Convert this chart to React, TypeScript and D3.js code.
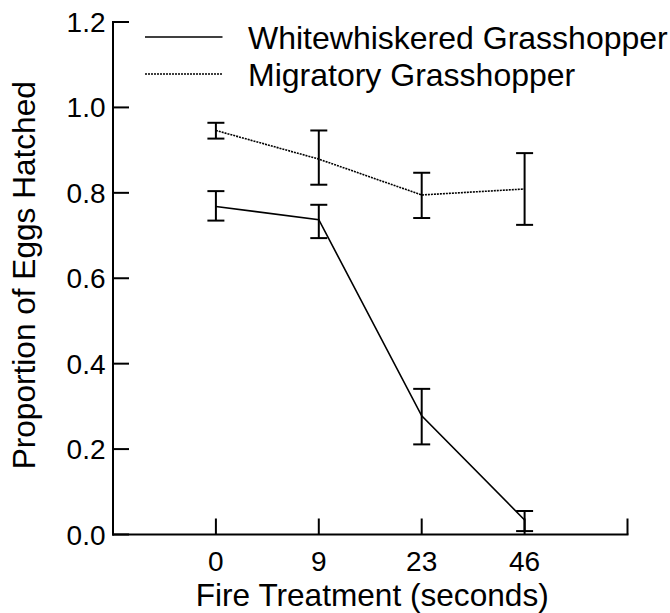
import React from "react";
import * as d3 from "d3";

const categories = ["0", "9", "23", "46"];
const yTicks = [0, 0.2, 0.4, 0.6, 0.8, 1.0, 1.2];

const whiteMean = [0.768, 0.737, 0.278, 0.034];
const whiteUpper = [0.804, 0.772, 0.341, 0.055];
const whiteLower = [0.735, 0.694, 0.211, 0.008];

const migMean = [0.946, 0.879, 0.795, 0.809];
const migUpper = [0.964, 0.946, 0.847, 0.893];
const migLower = [0.927, 0.819, 0.741, 0.725];

const seriesNames = ["Whitewhiskered Grasshopper", "Migratory Grasshopper"];

const W = 670;
const H = 613;
const FONT = "'Liberation Sans', Arial, Helvetica, sans-serif";

export default function App() {
  const left = 113;
  const right = 627.5;
  const top = 22;
  const bottom = 534.5;

  const x = d3.scaleLinear().domain([0, categories.length + 1]).range([left, right]);
  const y = d3.scaleLinear().domain([0, 1.2]).range([bottom, top]);

  const line = d3
    .line<number>()
    .x((_, i) => x(i + 1))
    .y((d) => y(d));

  const series = [
    { name: seriesNames[0], mean: whiteMean, upper: whiteUpper, lower: whiteLower, dash: undefined },
    { name: seriesNames[1], mean: migMean, upper: migUpper, lower: migLower, dash: "2,1" },
  ];

  const tickLen = 16;
  const cap = 8.5;
  const xTickIdx = d3.range(1, categories.length + 2);

  return (
    <svg
      width={W}
      height={H}
      style={{ position: "absolute", left: 0, top: 0, background: "#fff" }}
      fontFamily={FONT}
    >
      <rect x={0} y={0} width={W} height={H} fill="#fff" />
      {/* axes */}
      <line x1={left} x2={left} y1={top - 1} y2={bottom + 1} stroke="#000" strokeWidth={2} />
      <line x1={left - 1} x2={right + 1} y1={bottom} y2={bottom} stroke="#000" strokeWidth={2} />
      {yTicks.map((t) => (
        <g key={"yt" + t}>
          <line x1={left} x2={left + tickLen} y1={y(t)} y2={y(t)} stroke="#000" strokeWidth={2} />
          <text
            x={left - 7.5}
            y={y(t)}
            dy="0.36em"
            textAnchor="end"
            fontSize={28}
            fill="#000"
          >
            {t.toFixed(1)}
          </text>
        </g>
      ))}
      {xTickIdx.map((i) => (
        <line
          key={"xt" + i}
          x1={x(i)}
          x2={x(i)}
          y1={bottom}
          y2={bottom - tickLen}
          stroke="#000"
          strokeWidth={2}
        />
      ))}
      {categories.map((c, i) => (
        <text
          key={"xl" + c}
          x={x(i + 1)}
          y={571}
          textAnchor="middle"
          fontSize={28}
          fill="#000"
        >
          {c}
        </text>
      ))}
      <text x={(left + right) / 2 + 2} y={606} textAnchor="middle" fontSize={31.6} fill="#000">
        Fire Treatment (seconds)
      </text>
      <text
        transform={`translate(35, ${(top + bottom) / 2 - 3}) rotate(-90)`}
        textAnchor="middle"
        fontSize={31.6}
        fill="#000"
      >
        Proportion of Eggs Hatched
      </text>

      {/* series */}
      {series.map((s) => (
        <g key={s.name}>
          <path
            d={line(s.mean) || ""}
            fill="none"
            stroke="#000"
            strokeWidth={1.6}
            strokeDasharray={s.dash}
          />
          {s.mean.map((_, i) => (
            <g key={i}>
              <line x1={x(i + 1)} x2={x(i + 1)} y1={y(s.upper[i])} y2={y(s.lower[i])} stroke="#000" strokeWidth={2} />
              <line x1={x(i + 1) - cap} x2={x(i + 1) + cap} y1={y(s.upper[i])} y2={y(s.upper[i])} stroke="#000" strokeWidth={2} />
              <line x1={x(i + 1) - cap} x2={x(i + 1) + cap} y1={y(s.lower[i])} y2={y(s.lower[i])} stroke="#000" strokeWidth={2} />
            </g>
          ))}
        </g>
      ))}

      {/* legend */}
      {series.map((s, i) => {
        const ly = i === 0 ? 37 : 74;
        return (
          <g key={"lg" + i}>
            <line x1={145} x2={222.5} y1={ly} y2={ly} stroke="#000" strokeWidth={1.6} strokeDasharray={s.dash} />
            <text x={248} y={ly} dy="0.36em" fontSize={32} fill="#000">
              {s.name}
            </text>
          </g>
        );
      })}
    </svg>
  );
}
